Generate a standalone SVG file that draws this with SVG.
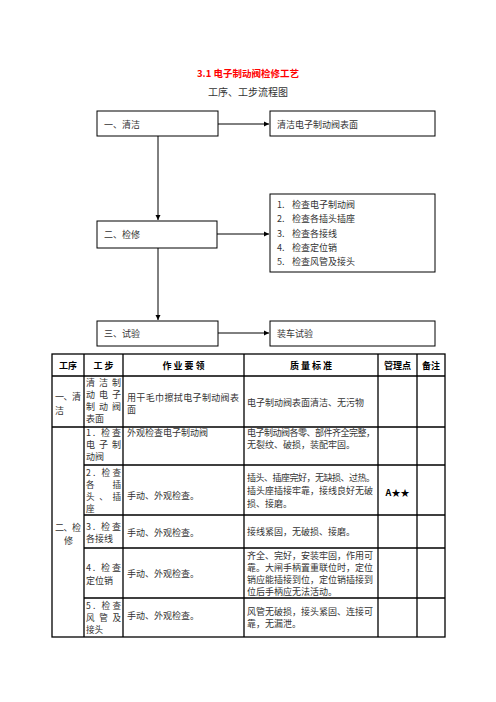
<svg xmlns="http://www.w3.org/2000/svg" width="496" height="702" viewBox="0 0 496 702">
<style>
  text { font-family: "Noto Sans CJK SC", "Liberation Sans", sans-serif; font-size: 9px; fill: #333; dominant-baseline: central; }
  .title { font-size: 9.5px; font-weight: bold; fill: #ff0000; text-anchor: middle; }
  .sub { font-size: 10px; text-anchor: middle; fill: #333; }
  .box { fill: #fff; stroke: #000; stroke-width: 1; }
  .conn { fill: none; stroke: #000; stroke-width: 1; }
  .grid { stroke: #000; stroke-width: 1.3; fill: none; }
  .hd { font-weight: bold; text-anchor: middle; fill: #000; }
  .s { font-size: 8.6px; }
</style>
<defs>
  <marker id="ah" markerWidth="6" markerHeight="6" refX="5" refY="3" orient="auto" markerUnits="userSpaceOnUse">
    <path d="M0,0.5 L5,3 L0,5.5 Z" fill="#000"/>
  </marker>
</defs>
<rect width="496" height="702" fill="#fff"/>

<text class="title" x="248" y="73">3.1  电子制动阀检修工艺</text>
<text class="sub" x="248" y="91">工序、工步流程图</text>

<g id="connectors">
  <path class="conn" d="M218,124 H269" marker-end="url(#ah)"/>
  <path class="conn" d="M158,136 V220" marker-end="url(#ah)"/>
  <path class="conn" d="M217,234 H269" marker-end="url(#ah)"/>
  <path class="conn" d="M158,248 V320" marker-end="url(#ah)"/>
  <path class="conn" d="M218,333 H269" marker-end="url(#ah)"/>
</g>

<g id="node-clean">
  <rect class="box" x="97" y="111" width="121" height="25"/>
  <text x="104" y="124">一、清洁</text>
</g>
<g id="node-clean-step">
  <rect class="box" x="270" y="111" width="165" height="25"/>
  <text x="277" y="124">清洁电子制动阀表面</text>
</g>
<g id="node-repair">
  <rect class="box" x="97" y="221" width="120" height="27"/>
  <text x="104" y="234">二、检修</text>
</g>
<g id="node-repair-steps">
  <rect class="box" x="270" y="194" width="165" height="78"/>
  <text x="277" y="204">1.</text><text x="292" y="204">检查电子制动阀</text>
  <text x="277" y="218.5">2.</text><text x="292" y="218.5">检查各插头插座</text>
  <text x="277" y="233">3.</text><text x="292" y="233">检查各接线</text>
  <text x="277" y="247">4.</text><text x="292" y="247">检查定位销</text>
  <text x="277" y="261">5.</text><text x="292" y="261">检查风管及接头</text>
</g>
<g id="node-test">
  <rect class="box" x="97" y="321" width="121" height="25"/>
  <text x="104" y="333">三、试验</text>
</g>
<g id="node-test-step">
  <rect class="box" x="270" y="321" width="165" height="25"/>
  <text x="277" y="333">装车试验</text>
</g>

<g id="table">
  <rect class="grid" x="52" y="354" width="393" height="283"/>
  <path class="grid" d="M84,354 V637 M123,354 V637 M244,354 V637 M378,354 V637 M417,354 V637"/>
  <path class="grid" d="M52,376 H445 M52,427 H445 M84,465 H445 M84,515 H445 M84,548 H445 M84,598 H445"/>

  <text class="hd" x="68" y="365">工序</text>
  <text class="hd" x="103.5" y="365">工  步</text>
  <text class="hd" x="183.5" y="365">作 业 要 领</text>
  <text class="hd" x="311" y="365">质 量 标 准</text>
  <text class="hd" x="397.5" y="365">管理点</text>
  <text class="hd" x="431" y="365">备注</text>

  <!-- row 1 -->
  <text x="55" y="396" textLength="26" lengthAdjust="spacing">一、清</text>
  <text x="55" y="410">洁</text>
  <text x="86" y="382" textLength="35" lengthAdjust="spacing">清洁制</text>
  <text x="86" y="394" textLength="35" lengthAdjust="spacing">动电子</text>
  <text x="86" y="406" textLength="35" lengthAdjust="spacing">制动阀</text>
  <text x="86" y="418">表面</text>
  <text x="127" y="397" textLength="112" lengthAdjust="spacing">用干毛巾擦拭电子制动阀表</text>
  <text x="127" y="409">面</text>
  <text x="247" y="402">电子制动阀表面清洁、无污物</text>

  <!-- row 2 -->
  <text x="86" y="432" textLength="35" lengthAdjust="spacing">1. 检查</text>
  <text x="86" y="444" textLength="35" lengthAdjust="spacing">电子制</text>
  <text x="86" y="456">动阀</text>
  <text x="127" y="432">外观检查电子制动阀</text>
  <text x="247" y="432" textLength="128" lengthAdjust="spacing">电子制动阀各零、部件齐全完整，</text>
  <text x="247" y="444">无裂纹、破损，装配牢固。</text>

  <!-- row 3 -->
  <text class="s" x="86" y="472" textLength="35" lengthAdjust="spacing">2. 检查</text>
  <text class="s" x="86" y="484" textLength="35" lengthAdjust="spacing">各插</text>
  <text class="s" x="86" y="496" textLength="35" lengthAdjust="spacing">头、插</text>
  <text class="s" x="86" y="508">座</text>
  <text x="127" y="495">手动、外观检查。</text>
  <text x="247" y="477" textLength="128" lengthAdjust="spacing">插头、插座完好，无缺损、过热。</text>
  <text x="247" y="490" textLength="126" lengthAdjust="spacing">插头座插接牢靠，接线良好无破</text>
  <text x="247" y="503">损、接磨。</text>
  <text class="hd" x="397.5" y="492">A★★</text>

  <!-- merged -->
  <text x="55" y="527" textLength="26" lengthAdjust="spacing">二、检</text>
  <text x="64" y="540">修</text>

  <!-- row 4 -->
  <text x="86" y="526" textLength="35" lengthAdjust="spacing">3. 检查</text>
  <text x="86" y="538">各接线</text>
  <text x="127" y="532">手动、外观检查。</text>
  <text x="247" y="531">接线紧固，无破损、接磨。</text>

  <!-- row 5 -->
  <text x="86" y="567" textLength="35" lengthAdjust="spacing">4. 检查</text>
  <text x="86" y="580">定位销</text>
  <text x="127" y="573">手动、外观检查。</text>
  <text x="247" y="555" textLength="126" lengthAdjust="spacing">齐全、完好，安装牢固，作用可</text>
  <text x="247" y="567" textLength="126" lengthAdjust="spacing">靠。大闸手柄置重联位时，定位</text>
  <text x="247" y="579" textLength="126" lengthAdjust="spacing">销应能插接到位，定位销插接到</text>
  <text x="247" y="591">位后手柄应无法活动。</text>

  <!-- row 6 -->
  <text class="s" x="86" y="605" textLength="35" lengthAdjust="spacing">5. 检查</text>
  <text class="s" x="86" y="617" textLength="35" lengthAdjust="spacing">风管及</text>
  <text class="s" x="86" y="629">接头</text>
  <text x="127" y="615">手动、外观检查。</text>
  <text x="247" y="611" textLength="126" lengthAdjust="spacing">风管无破损，接头紧固、连接可</text>
  <text x="247" y="623">靠，无漏泄。</text>
</g>
</svg>
